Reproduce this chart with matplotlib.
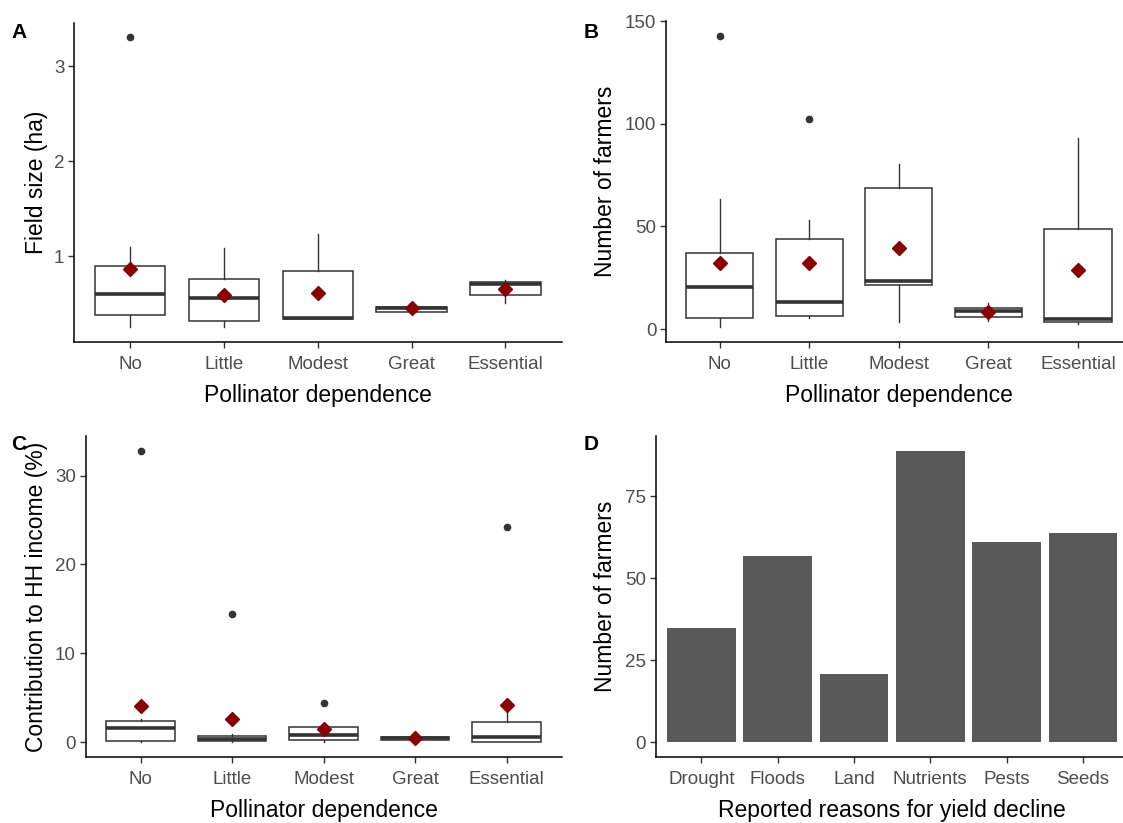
import numpy as np
import matplotlib
matplotlib.use("Agg")
import matplotlib.pyplot as plt

plt.rcParams['font.family'] = ['Liberation Sans', 'DejaVu Sans']

W, H = 1123, 823

# pollinator dependence classes
groups = ["No", "Little", "Modest", "Great", "Essential"]

# A: field size (ha)
a_low = [0.25, 0.25, 0.335, 0.40, 0.51]
a_q1 = [0.38, 0.32, 0.335, 0.41, 0.59]
a_med = [0.60, 0.56, 0.345, 0.45, 0.71]
a_q3 = [0.90, 0.76, 0.84, 0.47, 0.73]
a_high = [1.10, 1.09, 1.23, 0.48, 0.75]
a_mean = [0.86, 0.59, 0.61, 0.45, 0.65]
a_out = [[3.30], [], [], [], []]

# B: number of farmers
b_low = [0.8, 5.4, 3.3, 4.1, 2.4]
b_q1 = [5.4, 6.5, 21.6, 6.0, 3.6]
b_med = [20.3, 13.0, 23.3, 8.8, 4.9]
b_q3 = [36.9, 43.7, 68.5, 10.1, 48.5]
b_high = [63.3, 53.2, 80.3, 12.7, 93.0]
b_mean = [32.0, 32.0, 39.3, 8.1, 28.9]
b_out = [[142.8], [102.4], [], [], []]

# C: contribution to household income (%)
c_low = [0.0, 0.0, 0.0, 0.25, 0.0]
c_q1 = [0.15, 0.15, 0.26, 0.30, 0.0]
c_med = [1.65, 0.34, 0.82, 0.45, 0.64]
c_q3 = [2.4, 0.71, 1.69, 0.62, 2.25]
c_high = [2.6, 0.9, 1.7, 0.65, 4.2]
c_mean = [4.09, 2.62, 1.5, 0.45, 4.2]
c_out = [[32.8], [14.4], [4.46], [], [24.2]]

# D: reported reasons for yield decline
reasons = ["Drought", "Floods", "Land", "Nutrients", "Pests", "Seeds"]
counts = [35, 57, 21, 89, 61, 64]

edge = "#333333"
txt_grey = "#4D4D4D"


def make_axes(left, right, top, bottom):
    ax = fig.add_axes([left / W, 1 - bottom / H, (right - left) / W, (bottom - top) / H])
    for s in ["top", "right"]:
        ax.spines[s].set_visible(False)
    for s in ["left", "bottom"]:
        ax.spines[s].set_linewidth(1.1)
        ax.spines[s].set_color("black")
    ax.tick_params(length=4, width=1.0, color=edge, labelsize=13.5, labelcolor=txt_grey, pad=3)
    ax.tick_params(axis="x", pad=6)
    return ax


def boxes(ax, low, q1, med, q3, high, mean, out):
    stats = []
    for i in range(len(groups)):
        stats.append(dict(whislo=low[i], q1=q1[i], med=med[i], q3=q3[i], whishi=high[i],
                          mean=mean[i], fliers=out[i]))
    ax.bxp(stats, positions=np.arange(1, len(groups) + 1), widths=0.75,
           showmeans=True, showcaps=False, patch_artist=True,
           boxprops=dict(facecolor="white", edgecolor=edge, linewidth=1.1),
           medianprops=dict(color=edge, linewidth=2.6),
           whiskerprops=dict(color=edge, linewidth=1.0),
           flierprops=dict(marker="o", markerfacecolor=edge, markeredgecolor=edge, markersize=4.5),
           meanprops=dict(marker="D", markerfacecolor="#8B0000", markeredgecolor="#8B0000", markersize=7))
    ax.set_xticks(np.arange(1, len(groups) + 1))
    ax.set_xticklabels(groups)
    ax.set_xlim(0.4, len(groups) + 0.6)
    ax.set_xlabel("Pollinator dependence", fontsize=16.5, labelpad=8)


fig = plt.figure(figsize=(W / 100, H / 100), dpi=100)

axA = make_axes(74, 561.7, 23, 342)
boxes(axA, a_low, a_q1, a_med, a_q3, a_high, a_mean, a_out)
axA.set_ylim(0.0975, 3.4525)
axA.set_yticks([1, 2, 3])
axA.set_ylabel("Field size (ha)", fontsize=16.5, labelpad=4)

axB = make_axes(666, 1131.7, 21, 342)
boxes(axB, b_low, b_q1, b_med, b_q3, b_high, b_mean, b_out)
axB.set_ylim(-6.3, 149.9)
axB.set_yticks([0, 50, 100, 150])
axB.set_ylabel("Number of farmers", fontsize=16.5, labelpad=6)

axC = make_axes(85.7, 561.5, 436, 757)
boxes(axC, c_low, c_q1, c_med, c_q3, c_high, c_mean, c_out)
axC.set_ylim(-1.64, 34.44)
axC.set_yticks([0, 10, 20, 30])
axC.set_ylabel("Contribution to HH income (%)", fontsize=16.5, labelpad=5)

axD = make_axes(655.7, 1128.6, 436, 757)
xd = np.arange(1, len(reasons) + 1)
axD.bar(xd, counts, width=0.9, color="#595959")
axD.set_xticks(xd)
axD.set_xticklabels(reasons)
axD.set_xlim(0.4, len(reasons) + 0.6)
axD.set_ylim(-4.45, 93.45)
axD.set_yticks([0, 25, 50, 75])
axD.set_ylabel("Number of farmers", fontsize=16.5, labelpad=6)
axD.set_xlabel("Reported reasons for yield decline", fontsize=16.5, labelpad=8)

for lab, x, y in [("A", 19, 32), ("B", 591, 32), ("C", 19, 445), ("D", 591, 445)]:
    fig.text(x / W, 1 - y / H, lab, fontsize=15, fontweight="bold", ha="center", va="center")

fig.savefig("out.png", dpi=100)
